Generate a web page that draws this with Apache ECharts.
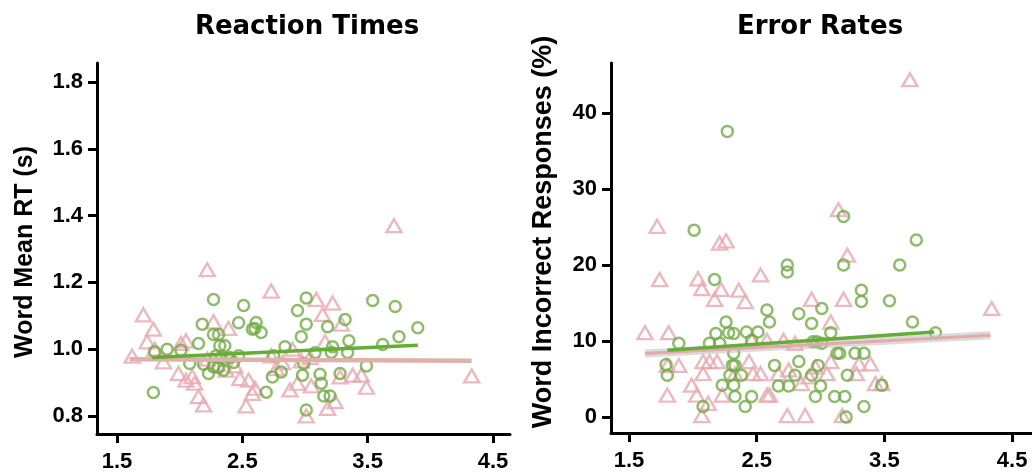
<!DOCTYPE html>
<html>
<head>
<meta charset="utf-8">
<script src="https://cdn.jsdelivr.net/npm/echarts@6/dist/echarts.min.js"></script>
<style>
html,body{margin:0;padding:0;background:#fff;}
#c{width:1032px;height:475px;}
</style>
</head>
<body>
<div id="c"></div>
<script>
// ---------- Data ----------
const xTicks = [1.5, 2.5, 3.5, 4.5];
const rtTicks = [0.8, 1.0, 1.2, 1.4, 1.6, 1.8];
const errTicks = [0, 10, 20, 30, 40];

// Reaction times: pink triangles
const rtTriangles = [
 [1.62,0.979],[1.71,1.103],[1.79,1.06],[1.74,1.022],[1.80,1.0],[1.87,0.962],[1.99,0.927],[2.01,1.017],
 [2.05,1.025],[2.05,0.907],[2.10,0.918],[2.12,0.898],[2.15,0.858],[2.19,0.833],[2.22,1.238],[2.27,1.082],
 [2.22,0.97],[2.30,0.955],[2.39,1.062],[2.37,0.937],[2.44,0.95],[2.48,0.912],[2.55,0.907],[2.53,0.83],
 [2.58,0.868],[2.60,0.883],[2.73,1.174],[2.73,0.98],[2.77,0.942],[2.82,0.96],[2.88,0.878],[2.90,1.0],
 [2.94,0.898],[2.97,0.965],[3.01,0.80],[3.05,0.89],[3.09,1.149],[3.04,0.975],[3.14,1.104],[3.16,1.022],
 [3.18,0.823],[3.22,1.138],[3.24,0.843],[3.29,1.075],[3.28,0.917],[3.38,0.922],[3.45,0.922],[3.49,0.886],
 [3.71,1.37],[4.33,0.92]
];
// Reaction times: green circles
const rtCircles = [
 [1.79,0.87],[1.80,0.992],[1.90,1.0],[2.01,0.997],[2.08,0.957],[2.15,1.017],[2.18,1.075],[2.19,0.955],
 [2.23,0.927],[2.27,1.149],[2.27,1.044],[2.31,1.044],[2.32,1.01],[2.36,1.01],[2.29,0.98],[2.33,0.975],
 [2.31,0.945],[2.35,0.937],[2.27,0.947],[2.40,0.975],[2.43,0.96],[2.47,0.98],[2.47,1.079],[2.51,1.131],
 [2.58,1.06],[2.61,1.08],[2.60,1.062],[2.65,1.05],[2.69,0.871],[2.74,0.917],[2.75,0.98],[2.81,0.932],
 [2.84,1.007],[2.94,1.116],[2.97,1.037],[3.01,1.153],[3.01,1.075],[2.99,0.957],[2.98,0.922],[3.01,0.818],
 [3.08,0.989],[3.12,0.925],[3.13,0.898],[3.15,0.86],[3.20,0.86],[3.18,1.067],[3.21,0.99],[3.22,1.007],
 [3.28,0.927],[3.32,1.089],[3.35,1.025],[3.34,0.99],[3.49,0.95],[3.54,1.146],[3.62,1.014],[3.72,1.128],
 [3.75,1.037],[3.90,1.064]
];
// Error rates: pink triangles
const errTriangles = [
 [1.625,11.1],[1.72,25.1],[1.74,18.1],[1.81,11.1],[1.80,2.9],[1.80,6.8],[1.89,6.8],[1.99,4.2],
 [2.03,2.9],[2.04,18.2],[2.07,16.9],[2.07,0.2],[2.08,7.3],[2.08,5.7],[2.12,1.8],[2.13,7.3],
 [2.19,7.3],[2.17,15.5],[2.22,16.8],[2.21,22.9],[2.26,23.2],[2.23,2.9],[2.33,5.7],[2.36,16.7],
 [2.41,15.2],[2.44,7.3],[2.46,10.1],[2.47,5.7],[2.53,18.7],[2.53,5.7],[2.58,10.1],[2.58,2.9],
 [2.60,2.9],[2.67,5.7],[2.71,10.1],[2.74,0.2],[2.75,6.2],[2.80,9.7],[2.85,4.4],[2.88,0.2],
 [2.93,15.5],[2.91,5.3],[2.96,6.6],[3.05,5.7],[3.08,12.5],[3.08,7.3],[3.14,27.3],[3.18,15.5],
 [3.17,0.2],[3.21,21.3],[3.28,5.7],[3.30,7.0],[3.39,7.0],[3.43,4.4],[3.48,4.4],[3.70,44.4],[4.34,14.3]
];
// Error rates: green circles
const errCircles = [
 [1.79,6.9],[1.80,5.5],[1.89,9.7],[2.01,24.6],[2.08,1.4],[2.13,9.7],[2.17,18.1],[2.18,11.0],
 [2.21,9.7],[2.23,4.2],[2.26,12.5],[2.27,37.6],[2.28,11.1],[2.32,11.0],[2.32,8.4],[2.31,6.8],
 [2.33,6.8],[2.29,5.5],[2.32,4.2],[2.33,2.7],[2.38,5.5],[2.42,11.2],[2.46,10.1],[2.41,1.4],
 [2.46,2.7],[2.51,11.2],[2.58,14.1],[2.60,12.5],[2.64,6.8],[2.67,4.1],[2.74,20.0],[2.74,19.1],
 [2.75,4.1],[2.80,5.5],[2.83,13.6],[2.83,7.3],[2.93,12.3],[2.93,5.5],[2.94,9.9],[2.97,9.9],
 [2.96,2.7],[2.98,6.8],[3.00,4.1],[3.01,14.3],[3.01,9.7],[3.08,11.1],[3.11,2.7],[3.13,8.4],
 [3.15,8.4],[3.18,26.4],[3.18,20.0],[3.19,2.7],[3.21,5.5],[3.20,0.0],[3.27,8.4],[3.32,16.7],
 [3.32,15.2],[3.34,8.4],[3.34,1.4],[3.48,4.2],[3.54,15.3],[3.62,20.0],[3.72,12.5],[3.75,23.3],[3.90,11.1]
];
// Fitted lines (end points)
const rtPinkFit = [[1.60,0.970],[4.33,0.965]];
const rtGreenFit = [[1.78,0.975],[3.90,1.012]];
const errPinkFit = [[1.625,8.35],[4.33,10.77]];
const errGreenFit = [[1.80,8.8],[3.89,11.2]];

// ---------- Styles ----------
const PINK = '#e8a7b0';
const PINK_LINE = '#e0b0aa';
const GREEN = '#71ab45';
const GREEN_LINE = '#66ad37';
const FONT = 'Liberation Sans, Arial, Helvetica, sans-serif';

function axisCommon(ticks, fmt, isY) {
  return {
    type: 'value',
    splitLine: {show: false},
    axisLine: {show: true, onZero: false, lineStyle: {color: '#000', width: 3}},
    axisTick: {show: true, length: 9, lineStyle: {color: '#000', width: 3}, customValues: ticks},
    axisLabel: {
      show: true, customValues: ticks, color: '#000', fontFamily: FONT, fontWeight: 'bold',
      fontSize: 22, margin: isY ? 14 : 17, formatter: fmt
    }
  };
}
const fmt1 = v => Number(v).toFixed(1);
const fmt0 = v => String(Math.round(v));

const chart = echarts.init(document.getElementById('c'), null, {renderer: 'canvas'});
const triStyle = {color: 'rgba(255,255,255,0)', borderColor: PINK, borderWidth: 2.4};
const cirStyle = {color: 'rgba(255,255,255,0)', borderColor: GREEN, borderWidth: 2.5};

chart.setOption({
  animation: false,
  backgroundColor: '#fff',
  grid: [
    {left: 97, top: 63, width: 413, height: 371},
    {left: 611, top: 63, width: 421, height: 370}
  ],
  xAxis: [
    Object.assign(axisCommon(xTicks, fmt1, false), {gridIndex: 0, min: 1.34, max: 4.636}),
    Object.assign(axisCommon(xTicks, fmt1, false), {gridIndex: 1, min: 1.359, max: 4.656})
  ],
  yAxis: [
    Object.assign(axisCommon(rtTicks, fmt1, true), {gridIndex: 0, min: 0.746, max: 1.857}),
    Object.assign(axisCommon(errTicks, fmt0, true), {gridIndex: 1, min: -2.1, max: 46.6})
  ],
  graphic: [
    {type: 'text', x: 307, y: 27, style: {text: 'Reaction Times', font: 'bold 26px "DejaVu Sans", sans-serif', fill: '#000', textAlign: 'center', textVerticalAlign: 'middle'}},
    {type: 'text', x: 820, y: 27, style: {text: 'Error Rates', font: 'bold 26px "DejaVu Sans", sans-serif', fill: '#000', textAlign: 'center', textVerticalAlign: 'middle'}},
    {type: 'text', x: 25, y: 252, rotation: Math.PI / 2, style: {text: 'Word Mean RT (s)', font: 'bold 25px ' + FONT, fill: '#000', textAlign: 'center', textVerticalAlign: 'middle'}},
    {type: 'text', x: 544, y: 232, rotation: Math.PI / 2, style: {text: 'Word Incorrect Responses (%)', font: 'bold 27px ' + FONT, fill: '#000', textAlign: 'center', textVerticalAlign: 'middle'}}
  ],
  series: [
    {type: 'scatter', xAxisIndex: 0, yAxisIndex: 0, data: rtTriangles, symbol: 'triangle', symbolSize: [15, 13], itemStyle: triStyle, z: 2},
    {type: 'scatter', xAxisIndex: 0, yAxisIndex: 0, data: rtCircles, symbol: 'circle', symbolSize: 11, itemStyle: cirStyle, z: 3},
    {type: 'line', xAxisIndex: 0, yAxisIndex: 0, data: rtPinkFit, symbol: 'none', lineStyle: {color: PINK_LINE, width: 4.5}, z: 4, silent: true},
    {type: 'line', xAxisIndex: 0, yAxisIndex: 0, data: rtGreenFit, symbol: 'none', lineStyle: {color: GREEN_LINE, width: 3.5}, z: 5, silent: true},

    {type: 'scatter', xAxisIndex: 1, yAxisIndex: 1, data: errTriangles, symbol: 'triangle', symbolSize: [15, 13], itemStyle: triStyle, z: 2},
    {type: 'scatter', xAxisIndex: 1, yAxisIndex: 1, data: errCircles, symbol: 'circle', symbolSize: 11, itemStyle: cirStyle, z: 3},
    {type: 'line', xAxisIndex: 1, yAxisIndex: 1, data: errPinkFit, symbol: 'none', lineStyle: {color: 'rgba(190,190,190,0.55)', width: 8}, z: 4, silent: true},
    {type: 'line', xAxisIndex: 1, yAxisIndex: 1, data: errPinkFit, symbol: 'none', lineStyle: {color: '#e3aaa8', width: 3}, z: 5, silent: true},
    {type: 'line', xAxisIndex: 1, yAxisIndex: 1, data: errGreenFit, symbol: 'none', lineStyle: {color: GREEN_LINE, width: 3.5}, z: 6, silent: true}
  ]
});
</script>
</body>
</html>
